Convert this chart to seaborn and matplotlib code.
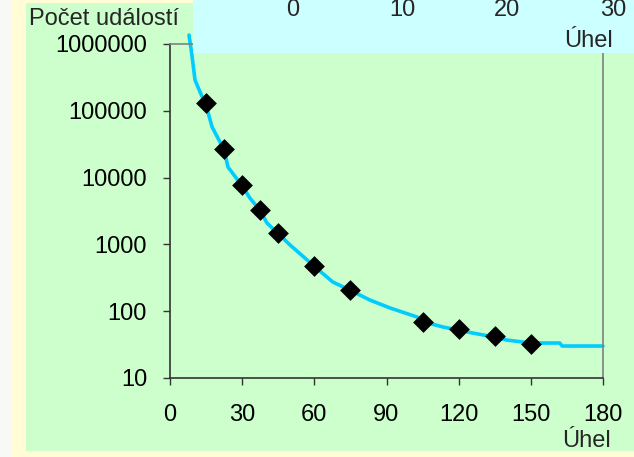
import matplotlib
matplotlib.use("Agg")
import matplotlib.pyplot as plt
from matplotlib.patches import Rectangle
from matplotlib.ticker import FixedLocator, FuncFormatter, NullLocator
import seaborn as sns
import pandas as pd

# measured points (diamonds)
meas_angle = [15, 22.5, 30, 37.5, 45, 60, 75, 105, 120, 135, 150]
meas_count = [131000, 26800, 7740, 3270, 1480, 475, 208, 69, 54, 42.5, 32]

# theoretical curve
curve_angle = [7.9, 9, 10.4, 12.5, 15, 17.5, 22.5, 24.1, 30, 33.2, 37.5, 40.3,
               45, 49.9, 60, 67.7, 75, 83.1, 91.4, 102.7, 105, 113.5, 120,
               126, 135, 140, 150, 162, 163, 180]
curve_count = [1360000, 733000, 289000, 191000, 120000, 57200, 26000, 14400,
               7500, 4950, 3200, 2090, 1450, 980, 470, 273, 205, 147, 112,
               81.9, 70, 58, 52, 47, 41, 37, 33.4, 33.4, 30.1, 30.1]

x_ticks = [0, 30, 60, 90, 120, 150, 180]
y_ticks = [10, 100, 1000, 10000, 100000, 1000000]
inset_labels = ["0", "10", "20", "30"]
inset_label_x = [293, 402, 507, 613]

W, H = 634, 457
GREEN = "#CCFFCC"
CYAN = "#CCFFFF"
YELLOW = "#FFFCD6"
LINE = "#00CCFF"

sns.set_style("ticks")
plt.rcParams["font.family"] = ["Liberation Sans", "DejaVu Sans"]

fig = plt.figure(figsize=(W / 100, H / 100), dpi=100, facecolor=YELLOW)
fx = lambda px: px / W
fy = lambda py: 1 - py / H

# background panels
fig.patches.append(Rectangle((0, 0), fx(12), 1, transform=fig.transFigure,
                             facecolor="#F8F8F6", edgecolor="none", zorder=-2))
fig.patches.append(Rectangle((fx(26), fy(451)), fx(634 - 26), (451 - 3) / H,
                             transform=fig.transFigure, facecolor=GREEN,
                             edgecolor="none", zorder=-1))

ax = fig.add_axes([fx(170), fy(378), fx(603 - 170), (378 - 44) / H])
ax.set_facecolor(GREEN)

curve = pd.DataFrame({"angle": curve_angle, "count": curve_count})
meas = pd.DataFrame({"angle": meas_angle, "count": meas_count})

sns.lineplot(data=curve, x="angle", y="count", color=LINE, linewidth=2.6,
             ax=ax, clip_on=False, zorder=2)
sns.scatterplot(data=meas, x="angle", y="count", marker="D", s=112,
                color="black", edgecolor="black", linewidth=0, ax=ax, zorder=3)

ax.set_yscale("log")
ax.set_xlim(0, 180)
ax.set_ylim(10, 1000000)
ax.xaxis.set_major_locator(FixedLocator(x_ticks))
ax.yaxis.set_major_locator(FixedLocator(y_ticks))
ax.yaxis.set_minor_locator(NullLocator())
ax.yaxis.set_major_formatter(FuncFormatter(lambda v, p: f"{int(round(v))}"))
ax.set_xlabel("")
ax.set_ylabel("")

for side in ["left", "bottom"]:
    ax.spines[side].set_color("#333333")
    ax.spines[side].set_linewidth(1.2)
for side in ["top", "right"]:
    ax.spines[side].set_visible(True)
    ax.spines[side].set_color("#808080")
    ax.spines[side].set_linewidth(1.2)

ax.tick_params(axis="both", direction="out", length=5, width=1,
               color="#333333", labelsize=17, labelcolor="black")
ax.tick_params(axis="x", pad=14)
ax.tick_params(axis="y", pad=11.5)

fig.text(fx(29), fy(25), "Počet událostí", fontsize=17, ha="left",
         va="baseline")
fig.text(fx(611), fy(447), "Úhel", fontsize=17, ha="right", va="baseline")

# overlapping cyan box from the chart behind
box = fig.add_axes([fx(193), fy(53), fx(634 - 193), 53 / H], zorder=5)
box.set_facecolor(CYAN)
box.set_xticks([])
box.set_yticks([])
for s in box.spines.values():
    s.set_visible(False)
for lab, px in zip(inset_labels, inset_label_x):
    box.text(fx(px), fy(16), lab, transform=fig.transFigure, fontsize=17,
             ha="center", va="baseline")
box.text(fx(613), fy(47), "Úhel", transform=fig.transFigure, fontsize=17,
         ha="right", va="baseline")

fig.savefig("out.png", dpi=100, facecolor=YELLOW)
